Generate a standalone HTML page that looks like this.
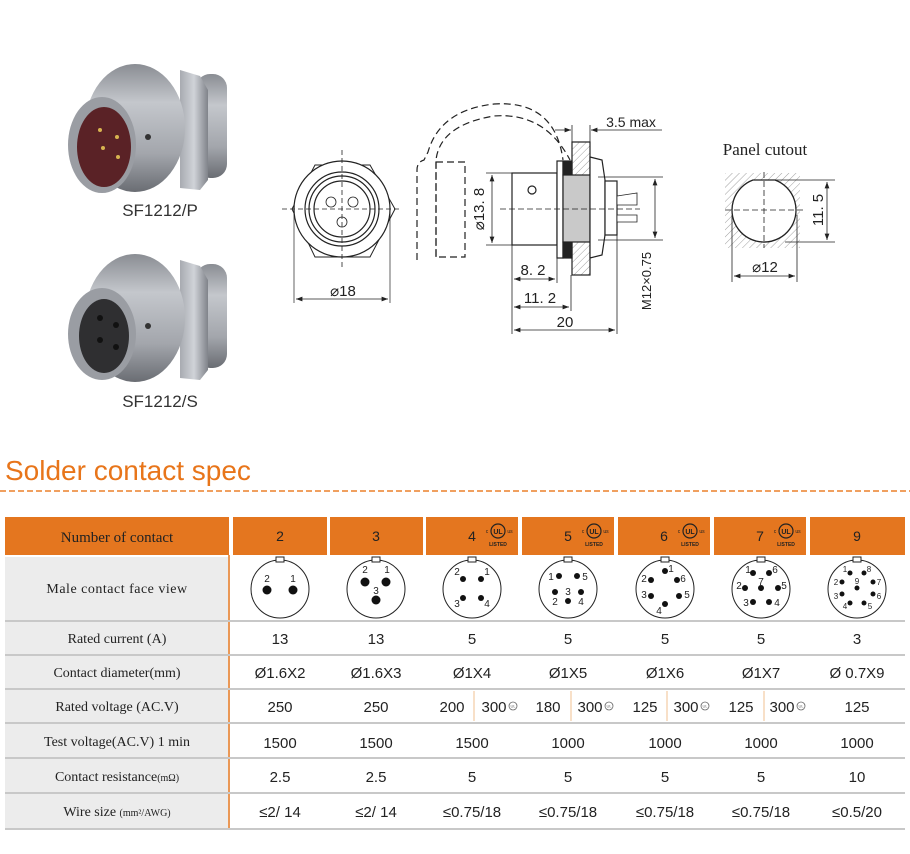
<!DOCTYPE html>
<html><head><meta charset="utf-8"><style>
html,body{margin:0;padding:0;background:#fff;width:910px;height:854px;overflow:hidden}
svg text{font-family:"Liberation Sans",sans-serif}
</style></head><body>
<svg width="910" height="854" viewBox="0 0 910 854" xmlns="http://www.w3.org/2000/svg">
<defs>
<linearGradient id="met" x1="0" y1="0" x2="0" y2="1">
<stop offset="0" stop-color="#8a8d93"/><stop offset="0.3" stop-color="#c4c7cc"/><stop offset="0.7" stop-color="#a3a6ac"/><stop offset="1" stop-color="#6a6d73"/></linearGradient>
<linearGradient id="met2" x1="0" y1="0" x2="1" y2="0">
<stop offset="0" stop-color="#a8abb1"/><stop offset="0.5" stop-color="#d0d3d8"/><stop offset="1" stop-color="#80838a"/></linearGradient>
<pattern id="hatch" width="5" height="5" patternUnits="userSpaceOnUse" patternTransform="rotate(45)">
<line x1="0" y1="0" x2="0" y2="5" stroke="#888" stroke-width="0.8"/></pattern>
<marker id="ar" markerWidth="8" markerHeight="6" refX="8" refY="3" orient="auto"><path d="M0,0 L8,3 L0,6 z" fill="#222"/></marker>
<marker id="al" markerWidth="8" markerHeight="6" refX="0" refY="3" orient="auto"><path d="M8,0 L0,3 L8,6 z" fill="#222"/></marker>
</defs>

<!-- Product P -->
<g>
<rect x="196" y="74" width="31" height="104" rx="14" fill="url(#met)"/>
<path d="M180,70 L200,76 L208,90 L208,180 L200,190 L180,188 z" fill="url(#met2)"/>
<ellipse cx="135" cy="128" rx="50" ry="64" fill="url(#met)"/>
<ellipse cx="102" cy="145" rx="34" ry="48" fill="#9a9da3"/>
<ellipse cx="104" cy="147" rx="27" ry="40" fill="#5a2226"/>
<circle cx="100" cy="130" r="2" fill="#d8b450"/><circle cx="117" cy="137" r="2" fill="#d8b450"/><circle cx="103" cy="148" r="2" fill="#d8b450"/><circle cx="118" cy="157" r="2" fill="#d8b450"/>
<circle cx="148" cy="137" r="3" fill="#333"/>
<text x="160" y="216" font-size="17" fill="#333" text-anchor="middle">SF1212/P</text>
</g>
<!-- Product S -->
<g>
<rect x="196" y="264" width="31" height="104" rx="14" fill="url(#met)"/>
<path d="M180,260 L200,266 L208,280 L208,370 L200,380 L180,378 z" fill="url(#met2)"/>
<ellipse cx="135" cy="318" rx="50" ry="64" fill="url(#met)"/>
<ellipse cx="102" cy="334" rx="34" ry="46" fill="#9a9da3"/>
<ellipse cx="104" cy="336" rx="25" ry="37" fill="#2f2f31"/>
<circle cx="100" cy="318" r="3" fill="#111"/><circle cx="116" cy="325" r="3" fill="#111"/><circle cx="100" cy="340" r="3" fill="#111"/><circle cx="116" cy="347" r="3" fill="#111"/>
<circle cx="148" cy="326" r="3" fill="#333"/>
<text x="160" y="407" font-size="17" fill="#333" text-anchor="middle">SF1212/S</text>
</g>

<!-- Front view drawing -->
<g stroke="#222" fill="none" stroke-width="1.2">
<path d="M315,165 L370,165 L395,209 L370,257 L315,257 L292,209 z" stroke-width="1"/>
<circle cx="342" cy="209" r="48" fill="#fff"/>
<circle cx="342" cy="209" r="37"/>
<circle cx="342" cy="209" r="33"/>
<circle cx="342" cy="209" r="28"/>
<circle cx="331" cy="202" r="5" stroke-width="0.8"/>
<circle cx="353" cy="202" r="5" stroke-width="0.8"/>
<circle cx="342" cy="222" r="5" stroke-width="0.8"/>
<line x1="282" y1="209" x2="402" y2="209" stroke-dasharray="5,3" stroke-width="0.8"/>
<line x1="342" y1="150" x2="342" y2="268" stroke-dasharray="5,3" stroke-width="0.8"/>
<line x1="294" y1="212" x2="294" y2="303" stroke-width="0.7"/>
<line x1="390" y1="212" x2="390" y2="303" stroke-width="0.7"/>
<line x1="296" y1="299" x2="388" y2="299" stroke-width="0.8" marker-start="url(#al)" marker-end="url(#ar)"/>
</g>
<text x="343" y="296" font-size="15" text-anchor="middle" fill="#222">⌀18</text>

<!-- Side view -->
<g stroke="#222" fill="none" stroke-width="1.2" stroke-dasharray="7,4">
<path d="M417,260 L417,170 Q417,162 424,160 L428,152 Q440,110 494,104 Q555,100 563,160"/>
<path d="M436,257 L436,160 Q440,125 494,116 Q545,112 570,160"/>
<rect x="436" y="162" width="29" height="95"/>
</g>
<g stroke="#222" fill="#fff" stroke-width="1.2">
<rect x="512" y="173" width="45" height="72"/>
<rect x="557" y="161" width="6" height="97"/>
<rect x="572" y="142" width="18" height="133" fill="url(#hatch)"/>
<rect x="563" y="161" width="9" height="14" fill="#222"/>
<rect x="563" y="242" width="9" height="16" fill="#222"/>
<rect x="563" y="175" width="27" height="67" fill="#c9c9c9"/>
<path d="M590,157 L602,160 L605,180 L605,235 L602,255 L590,258 z"/>
<rect x="605" y="181" width="12" height="54"/>
<path d="M617,196 L637,193 L637,205 L617,205 z M617,215 L637,215 L637,222 L617,222 z" stroke-width="0.8"/>
<circle cx="532" cy="190" r="4"/>
</g>
<g stroke="#222" stroke-width="0.8" fill="none">
<line x1="500" y1="209" x2="640" y2="209" stroke-dasharray="6,3"/>
<line x1="486" y1="173" x2="512" y2="173"/><line x1="486" y1="245" x2="512" y2="245"/>
<line x1="492" y1="175" x2="492" y2="243" marker-start="url(#al)" marker-end="url(#ar)"/>
<line x1="512" y1="245" x2="512" y2="334"/>
<line x1="557" y1="258" x2="557" y2="283"/>
<line x1="571" y1="275" x2="571" y2="311"/>
<line x1="617" y1="235" x2="617" y2="334"/>
<line x1="514" y1="279" x2="555" y2="279" marker-start="url(#al)" marker-end="url(#ar)"/>
<line x1="514" y1="307" x2="569" y2="307" marker-start="url(#al)" marker-end="url(#ar)"/>
<line x1="514" y1="330" x2="615" y2="330" marker-start="url(#al)" marker-end="url(#ar)"/>
<line x1="598" y1="177" x2="663" y2="177"/><line x1="598" y1="240" x2="663" y2="240"/>
<line x1="655" y1="179" x2="655" y2="238" marker-start="url(#al)" marker-end="url(#ar)"/>
<line x1="572" y1="125" x2="572" y2="142"/><line x1="590" y1="125" x2="590" y2="142"/>
<line x1="555" y1="130" x2="571" y2="130" marker-end="url(#ar)"/>
<line x1="591" y1="130" x2="662" y2="130" marker-start="url(#al)"/>
</g>
<text x="631" y="127" font-size="14" text-anchor="middle" fill="#222">3.5 max</text>
<text transform="translate(484,209) rotate(-90)" font-size="15" text-anchor="middle" fill="#222">⌀13. 8</text>
<text x="533" y="275" font-size="15" text-anchor="middle" fill="#222">8. 2</text>
<text x="540" y="303" font-size="15" text-anchor="middle" fill="#222">11. 2</text>
<text x="565" y="327" font-size="15" text-anchor="middle" fill="#222">20</text>
<text transform="translate(651,281) rotate(-90)" font-size="13" text-anchor="middle" fill="#222">M12×0.75</text>

<!-- Panel cutout -->
<text x="765" y="155" font-size="17" text-anchor="middle" fill="#222" style="font-family:'Liberation Serif',serif">Panel cutout</text>
<rect x="725" y="173" width="75" height="75" fill="url(#hatch)"/>
<path d="M753,180 L775,180 A32,32 0 1 1 753,180 z" fill="#fff" stroke="#222" stroke-width="1.3"/>
<g stroke="#222" stroke-width="0.8" fill="none">
<line x1="725" y1="210" x2="805" y2="210" stroke-dasharray="6,3"/>
<line x1="764" y1="172" x2="764" y2="248" stroke-dasharray="6,3"/>
<line x1="775" y1="180" x2="835" y2="180"/><line x1="785" y1="242" x2="835" y2="242"/>
<line x1="827" y1="182" x2="827" y2="240" marker-start="url(#al)" marker-end="url(#ar)"/>
<line x1="732" y1="215" x2="732" y2="282"/><line x1="797" y1="215" x2="797" y2="282"/>
<line x1="734" y1="276" x2="795" y2="276" marker-start="url(#al)" marker-end="url(#ar)"/>
</g>
<text x="765" y="272" font-size="15" text-anchor="middle" fill="#222">⌀12</text>
<text transform="translate(823,210) rotate(-90)" font-size="15" text-anchor="middle" fill="#222">11. 5</text>

<!-- Title -->
<text x="5" y="480" font-size="28" fill="#e8751a">Solder contact spec</text>
<line x1="0" y1="491" x2="910" y2="491" stroke="#f0a060" stroke-width="2" stroke-dasharray="6,3"/>

<!-- Table header -->
<g fill="#e4761f">
<rect x="5" y="517" width="224" height="38"/>
<rect x="233" y="517" width="94" height="38"/>
<rect x="330" y="517" width="93" height="38"/>
<rect x="426" y="517" width="92" height="38"/>
<rect x="522" y="517" width="92" height="38"/>
<rect x="618" y="517" width="92" height="38"/>
<rect x="714" y="517" width="92" height="38"/>
<rect x="810" y="517" width="95" height="38"/>
</g>
<text x="117" y="542" font-size="15" text-anchor="middle" fill="#222" style="font-family:'Liberation Serif',serif">Number of contact</text>
<g font-size="14" fill="#222" text-anchor="middle">
<text x="280" y="541">2</text><text x="376" y="541">3</text>
<text x="472" y="541">4</text><text x="568" y="541">5</text>
<text x="664" y="541">6</text><text x="760" y="541">7</text>
<text x="857" y="541">9</text>
</g>
<g>
<g transform="translate(498,531)"><circle r="7" fill="none" stroke="#222" stroke-width="1.2"/><text y="3" font-size="7" text-anchor="middle" font-weight="bold" fill="#222">UL</text><text x="-11" y="2" font-size="5" text-anchor="middle" fill="#222">c</text><text x="12" y="2" font-size="5" text-anchor="middle" fill="#222">us</text><text y="15" font-size="5" text-anchor="middle" font-weight="bold" fill="#222">LISTED</text></g>
<g transform="translate(594,531)"><circle r="7" fill="none" stroke="#222" stroke-width="1.2"/><text y="3" font-size="7" text-anchor="middle" font-weight="bold" fill="#222">UL</text><text x="-11" y="2" font-size="5" text-anchor="middle" fill="#222">c</text><text x="12" y="2" font-size="5" text-anchor="middle" fill="#222">us</text><text y="15" font-size="5" text-anchor="middle" font-weight="bold" fill="#222">LISTED</text></g>
<g transform="translate(690,531)"><circle r="7" fill="none" stroke="#222" stroke-width="1.2"/><text y="3" font-size="7" text-anchor="middle" font-weight="bold" fill="#222">UL</text><text x="-11" y="2" font-size="5" text-anchor="middle" fill="#222">c</text><text x="12" y="2" font-size="5" text-anchor="middle" fill="#222">us</text><text y="15" font-size="5" text-anchor="middle" font-weight="bold" fill="#222">LISTED</text></g>
<g transform="translate(786,531)"><circle r="7" fill="none" stroke="#222" stroke-width="1.2"/><text y="3" font-size="7" text-anchor="middle" font-weight="bold" fill="#222">UL</text><text x="-11" y="2" font-size="5" text-anchor="middle" fill="#222">c</text><text x="12" y="2" font-size="5" text-anchor="middle" fill="#222">us</text><text y="15" font-size="5" text-anchor="middle" font-weight="bold" fill="#222">LISTED</text></g>
</g>

<!-- Left column -->
<rect x="5" y="557" width="223" height="271" fill="#ececec"/>
<line x1="229" y1="555" x2="229" y2="830" stroke="#e4761f" stroke-width="1.5"/>
<g stroke="#c8c8c8" stroke-width="2">
<line x1="5" y1="621" x2="905" y2="621"/>
<line x1="5" y1="655" x2="905" y2="655"/>
<line x1="5" y1="689" x2="905" y2="689"/>
<line x1="5" y1="723" x2="905" y2="723"/>
<line x1="5" y1="758" x2="905" y2="758"/>
<line x1="5" y1="793" x2="905" y2="793"/>
<line x1="5" y1="829" x2="905" y2="829"/>
</g>
<g font-size="14" fill="#222" text-anchor="middle">
<text x="117" y="593" style="font-family:'Liberation Serif',serif" letter-spacing="0.5">Male  contact  face  view</text>
<text x="117" y="643" style="font-family:'Liberation Serif',serif">Rated current (A)</text>
<text x="117" y="677" style="font-family:'Liberation Serif',serif">Contact diameter(mm)</text>
<text x="117" y="711" style="font-family:'Liberation Serif',serif">Rated voltage (AC.V)</text>
<text x="117" y="746" style="font-family:'Liberation Serif',serif">Test voltage(AC.V) 1 min</text>
<text x="117" y="781" style="font-family:'Liberation Serif',serif">Contact resistance<tspan font-size="10">(mΩ)</tspan></text>
<text x="117" y="816" style="font-family:'Liberation Serif',serif">Wire size <tspan font-size="10">(mm²/AWG)</tspan></text>
</g>

<!-- Face views -->
<g stroke="#222" stroke-width="1" fill="#fff">
<circle cx="280" cy="589" r="29"/><circle cx="376" cy="589" r="29"/><circle cx="472" cy="589" r="29"/>
<circle cx="568" cy="589" r="29"/><circle cx="665" cy="589" r="29"/><circle cx="761" cy="589" r="29"/><circle cx="857" cy="589" r="29"/>
<rect x="276" y="557" width="8" height="5"/><rect x="372" y="557" width="8" height="5"/><rect x="468" y="557" width="8" height="5"/>
<rect x="564" y="557" width="8" height="5"/><rect x="661" y="557" width="8" height="5"/><rect x="757" y="557" width="8" height="5"/><rect x="853" y="557" width="8" height="5"/>
</g>
<g fill="#111">
<circle cx="267" cy="590" r="4.5"/><circle cx="293" cy="590" r="4.5"/>
<circle cx="365" cy="582" r="4.5"/><circle cx="386" cy="582" r="4.5"/><circle cx="376" cy="600" r="4.5"/>
<circle cx="463" cy="579" r="3"/><circle cx="481" cy="579" r="3"/><circle cx="463" cy="598" r="3"/><circle cx="481" cy="598" r="3"/>
<circle cx="559" cy="576" r="3"/><circle cx="577" cy="576" r="3"/><circle cx="555" cy="592" r="3"/><circle cx="581" cy="592" r="3"/><circle cx="568" cy="601" r="3"/>
<circle cx="665" cy="571" r="3"/><circle cx="677" cy="580" r="3"/><circle cx="679" cy="596" r="3"/><circle cx="665" cy="604" r="3"/><circle cx="651" cy="596" r="3"/><circle cx="651" cy="580" r="3"/>
<circle cx="753" cy="573" r="3"/><circle cx="769" cy="573" r="3"/><circle cx="745" cy="588" r="3"/><circle cx="761" cy="588" r="3"/><circle cx="778" cy="588" r="3"/><circle cx="753" cy="602" r="3"/><circle cx="769" cy="602" r="3"/>
<circle cx="850" cy="573" r="2.5"/><circle cx="864" cy="573" r="2.5"/><circle cx="842" cy="582" r="2.5"/><circle cx="873" cy="582" r="2.5"/><circle cx="857" cy="588" r="2.5"/><circle cx="842" cy="594" r="2.5"/><circle cx="873" cy="594" r="2.5"/><circle cx="850" cy="603" r="2.5"/><circle cx="864" cy="603" r="2.5"/>
</g>
<g font-size="10" fill="#222" text-anchor="middle">
<text x="267" y="582">2</text><text x="293" y="582">1</text>
<text x="365" y="573">2</text><text x="387" y="573">1</text><text x="376" y="594">3</text>
<text x="457" y="575">2</text><text x="487" y="575">1</text><text x="457" y="607">3</text><text x="487" y="607">4</text>
<text x="551" y="580">1</text><text x="585" y="580">5</text><text x="568" y="595">3</text><text x="555" y="605">2</text><text x="581" y="605">4</text>
<text x="671" y="572">1</text><text x="683" y="582">6</text><text x="687" y="598">5</text><text x="659" y="614">4</text><text x="644" y="598">3</text><text x="644" y="582">2</text>
<text x="748" y="573">1</text><text x="775" y="573">6</text><text x="761" y="585">7</text><text x="739" y="589">2</text><text x="784" y="589">5</text><text x="746" y="606">3</text><text x="777" y="606">4</text>
<g font-size="8"><text x="845" y="572">1</text><text x="869" y="572">8</text><text x="836" y="585">2</text><text x="879" y="585">7</text><text x="857" y="584">9</text><text x="836" y="599">3</text><text x="879" y="599">6</text><text x="845" y="609">4</text><text x="870" y="609">5</text></g>
</g>

<!-- Data -->
<g font-size="15" fill="#222" text-anchor="middle">
<text x="280" y="644">13</text><text x="376" y="644">13</text><text x="472" y="644">5</text><text x="568" y="644">5</text><text x="665" y="644">5</text><text x="761" y="644">5</text><text x="857" y="644">3</text>
<text x="280" y="678">Ø1.6X2</text><text x="376" y="678">Ø1.6X3</text><text x="472" y="678">Ø1X4</text><text x="568" y="678">Ø1X5</text><text x="665" y="678">Ø1X6</text><text x="761" y="678">Ø1X7</text><text x="857" y="678">Ø 0.7X9</text>
<text x="280" y="712">250</text><text x="376" y="712">250</text>
<text x="452" y="712">200</text><text x="494" y="712">300</text>
<text x="548" y="712">180</text><text x="590" y="712">300</text>
<text x="645" y="712">125</text><text x="686" y="712">300</text>
<text x="741" y="712">125</text><text x="782" y="712">300</text>
<text x="857" y="712">125</text>
<text x="280" y="748">1500</text><text x="376" y="748">1500</text><text x="472" y="748">1500</text><text x="568" y="748">1000</text><text x="665" y="748">1000</text><text x="761" y="748">1000</text><text x="857" y="748">1000</text>
<text x="280" y="782">2.5</text><text x="376" y="782">2.5</text><text x="472" y="782">5</text><text x="568" y="782">5</text><text x="665" y="782">5</text><text x="761" y="782">5</text><text x="857" y="782">10</text>
<text x="280" y="817">≤2/ 14</text><text x="376" y="817">≤2/ 14</text><text x="472" y="817">≤0.75/18</text><text x="568" y="817">≤0.75/18</text><text x="665" y="817">≤0.75/18</text><text x="761" y="817">≤0.75/18</text><text x="857" y="817">≤0.5/20</text>
</g>
<g stroke="#f0c090" stroke-width="1">
<line x1="474" y1="691" x2="474" y2="721"/><line x1="571" y1="691" x2="571" y2="721"/><line x1="667" y1="691" x2="667" y2="721"/><line x1="764" y1="691" x2="764" y2="721"/>
</g>
<g fill="none" stroke="#666" stroke-width="0.8">
<circle cx="513" cy="706" r="4"/><circle cx="609" cy="706" r="4"/><circle cx="705" cy="706" r="4"/><circle cx="801" cy="706" r="4"/>
</g>
<g font-size="4" fill="#666" text-anchor="middle">
<text x="513" y="707.5">UL</text><text x="609" y="707.5">UL</text><text x="705" y="707.5">UL</text><text x="801" y="707.5">UL</text>
</g>
</svg>
</body></html>
